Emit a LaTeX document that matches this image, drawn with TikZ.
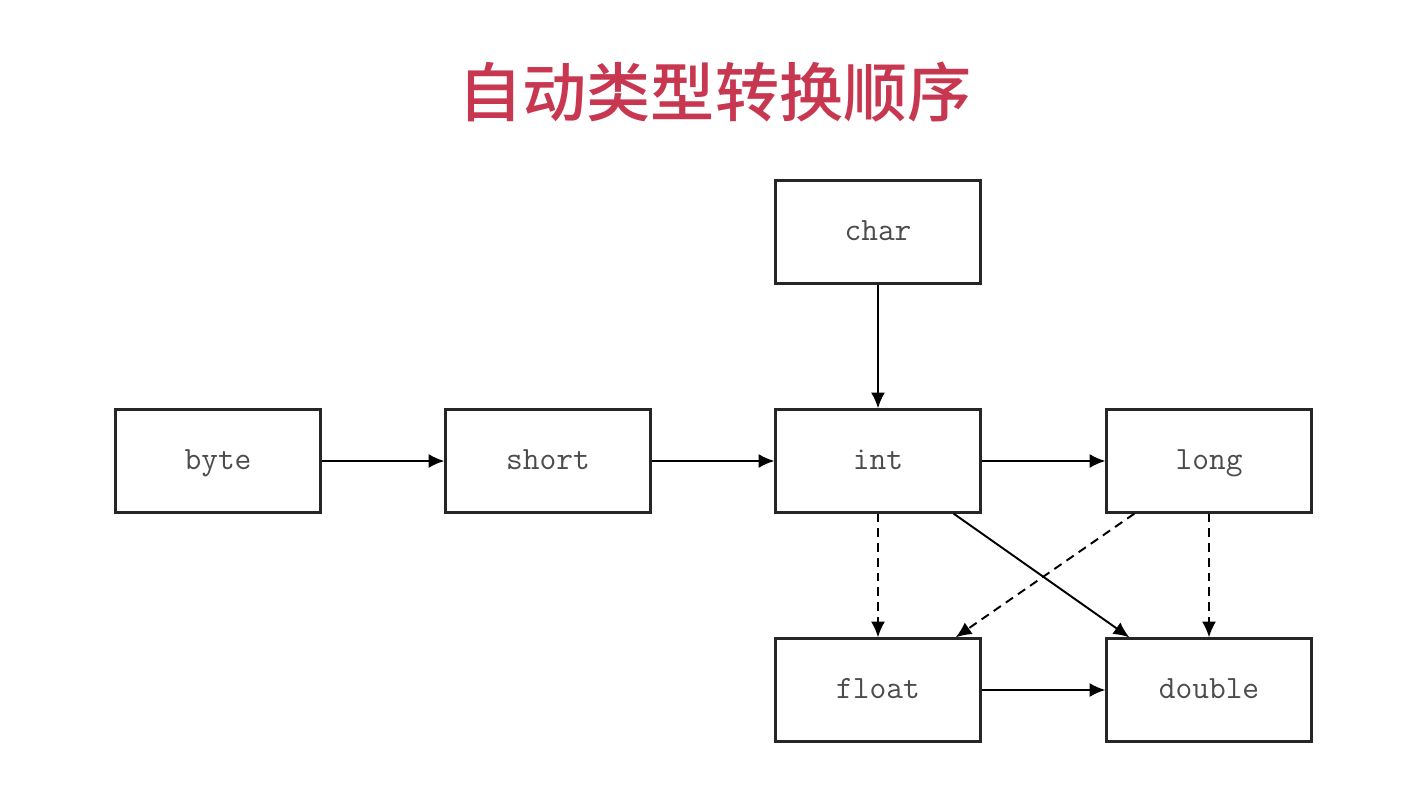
\documentclass[tikz,border=0pt]{standalone}
\usepackage{fontspec}
\newfontfamily\cjk{Noto Sans CJK SC Medium}
\usepackage{xcolor}
\usepackage{tikz}
\usetikzlibrary{calc, arrows.meta}

\definecolor{titlered}{RGB}{200,55,80}

\begin{document}
\begin{tikzpicture}[x=0.02cm, y=-0.02cm, >={Latex[length=9pt,width=8pt]},
    typebox/.style={draw=black!85, line width=1.3pt, minimum width=4.1cm, minimum height=2.06cm,
        inner sep=0pt, text height=2.7ex, text depth=0.4ex,
        font=\fontsize{18.5}{20}\selectfont\ttfamily, text=black!70},
    conv/.style={->, line width=1.1pt},
    weak/.style={->, line width=1.1pt, dash pattern=on 5pt off 3.4pt}]
    \useasboundingbox (0,0) rectangle (1403,787);

    % Tiêu đề
    \node[text=titlered, font=\cjk\fontsize{36.5}{40}\selectfont] (title) at (715,92) {自动类型转换顺序};

    % Các hộp kiểu dữ liệu
    \node[typebox] (byte)   at (218,461)  {byte};
    \node[typebox] (short)  at (548,461)  {short};
    \node[typebox] (int)    at (878,461)  {int};
    \node[typebox] (long)   at (1209,461) {long};
    \node[typebox] (char)   at (878,232)  {char};
    \node[typebox] (float)  at (878,690)  {float};
    \node[typebox] (double) at (1209,690) {double};

    % Chuyển đổi không mất dữ liệu (nét liền)
    \draw[conv] (byte) -- (short);
    \draw[conv] (short) -- (int);
    \draw[conv] (int) -- (long);
    \draw[conv] (char) -- (int);
    \draw[conv] (float) -- (double);
    \draw[conv] ($(int.south east)+(-28,0)$) -- ($(double.north west)+(24,0)$);

    % Có thể mất độ chính xác (nét đứt)
    \draw[weak] (int) -- (float);
    \draw[weak] (long) -- (double);
    \draw[weak] ($(long.south west)+(29,0)$) -- ($(float.north east)+(-26,0)$);
\end{tikzpicture}
\end{document}
